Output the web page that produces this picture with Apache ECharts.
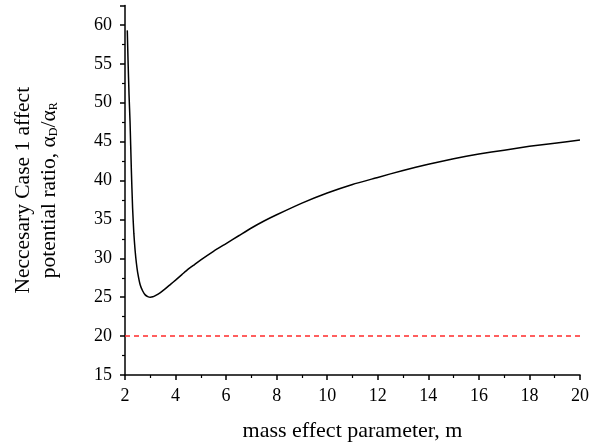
<!DOCTYPE html>
<html>
<head>
<meta charset="utf-8">
<script src="https://cdn.jsdelivr.net/npm/echarts@6/dist/echarts.min.js"></script>
<style>
  html, body { margin: 0; padding: 0; background: #fff; }
  #chart { width: 589px; height: 442px; }
</style>
</head>
<body>
<div id="chart"></div>
<script>
// mass effect parameter m and the matching ratio
const mValues = [2.09, 2.12, 2.16, 2.2, 2.25, 2.3, 2.35, 2.4, 2.45, 2.5, 2.6, 2.7, 2.8, 2.9, 3.0,
    3.1, 3.2, 3.4, 3.6, 3.8, 4.0, 4.25, 4.5, 4.75, 5, 5.5, 6, 6.5, 7, 7.5, 8, 9, 10, 11, 12, 13, 14,
    15, 16, 17, 18, 19, 20];
const ratioValues = [59.3, 55.5, 51, 47.5, 41.5, 36.5, 33.2, 31.0, 29.4, 28.2, 26.6, 25.8, 25.3, 25.08, 25.0,
    25.05, 25.2, 25.6, 26.1, 26.65, 27.2, 27.9, 28.6, 29.2, 29.8, 30.9, 31.9, 32.9, 33.9, 34.8, 35.6,
    37.1, 38.4, 39.5, 40.4, 41.3, 42.1, 42.8, 43.4, 43.9, 44.4, 44.8, 45.2];
// red dashed threshold
const thresholdX = [2, 20];
const thresholdY = [20, 20];

const serif = 'Liberation Serif';

function drawChart() {
    let myChart = echarts.init(document.getElementById('chart'));

    let option = {
        animation: false,
        grid: { left: 125, right: 9, top: 5.5, bottom: 67, outerBoundsMode: 'none' },
        xAxis: {
            type: 'value',
            min: 2, max: 20, interval: 2,
            name: 'mass effect parameter, m',
            nameLocation: 'middle',
            nameGap: 45,
            nameTextStyle: { fontFamily: serif, fontSize: 22, color: '#000' },
            axisLine: { show: true, onZero: false, lineStyle: { color: '#000', width: 1.5 } },
            axisTick: { show: true, inside: false, length: 5, lineStyle: { color: '#000', width: 1.5 } },
            minorTick: { show: true, splitNumber: 2, length: 3, lineStyle: { color: '#000', width: 1.2 } },
            axisLabel: { fontFamily: serif, fontSize: 18, color: '#000', margin: 12 },
            splitLine: { show: false }
        },
        yAxis: {
            type: 'value',
            min: 15, max: 62.5, interval: 5,
            name: '{a|Neccesary Case 1 affect}\n{a|potential ratio, α}{s|D}{a|/α}{s|R}',
            nameLocation: 'middle',
            nameGap: 63,
            nameTextStyle: {
                color: '#000',
                rich: {
                    a: { fontFamily: serif, fontSize: 21.5, color: '#000', lineHeight: 26 },
                    s: { fontFamily: serif, fontSize: 12, color: '#000', lineHeight: 26, padding: [10, 0, 0, 0] }
                }
            },
            axisLine: { show: true, onZero: false, lineStyle: { color: '#000', width: 1.5 } },
            axisTick: { show: true, inside: false, length: 5, lineStyle: { color: '#000', width: 1.5 } },
            minorTick: { show: true, splitNumber: 2, length: 3, lineStyle: { color: '#000', width: 1.2 } },
            axisLabel: {
                fontFamily: serif, fontSize: 18, color: '#000', margin: 13,
                formatter: v => (v % 5 === 0 && v <= 60) ? String(v) : ''
            },
            splitLine: { show: false }
        },
        series: [
            {
                type: 'line',
                data: mValues.map((m, i) => [m, ratioValues[i]]),
                smooth: 0.2,
                showSymbol: false,
                lineStyle: { color: '#000', width: 1.5 }
            },
            {
                type: 'line',
                data: thresholdX.map((m, i) => [m, thresholdY[i]]),
                showSymbol: false,
                lineStyle: { color: '#ff2a2a', width: 1.5, type: [5, 4] }
            }
        ]
    };

    myChart.setOption(option);
}

drawChart();
</script>
</body>
</html>
